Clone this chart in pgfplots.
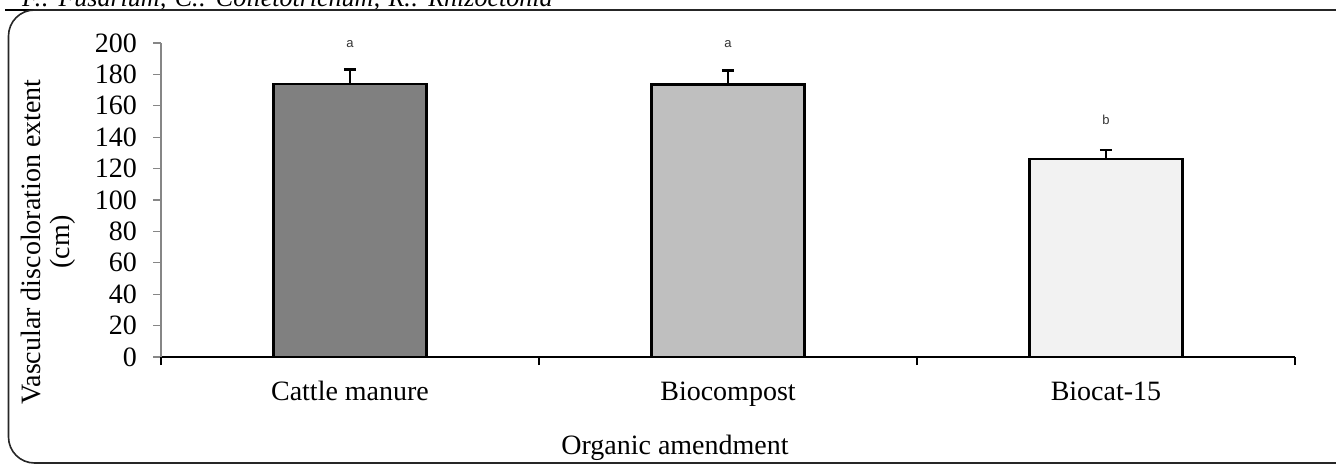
\documentclass[border=0pt]{standalone}
\usepackage{fontspec}
\setmainfont{Liberation Serif}
\newfontfamily\arial{Liberation Sans}
\usepackage{pgfplots}
\pgfplotsset{compat=1.18}
\definecolor{barA}{HTML}{808080}
\definecolor{barB}{HTML}{BFBFBF}
\definecolor{barC}{HTML}{F2F2F2}
\definecolor{axgray}{HTML}{868686}
\begin{document}
\begin{tikzpicture}[x=1pt,y=1pt]
\useasboundingbox (0,0) rectangle (1336,467);
% header text (cut off at the top, as in the reference)
\node[anchor=base west, inner sep=0pt, font=\itshape\fontsize{26}{26}\selectfont] at (22,460) {F.: Fusarium; C.: Colletotrichum; R.: Rhizoctonia};
\draw[line width=2.4pt] (5,457) -- (1336,457);
\draw[line width=1.6pt, black!85, rounded corners=26pt] (8.5,4) rectangle (1362,457);
\begin{axis}[
  at={(161pt,110pt)}, anchor=south west,
  scale only axis, width=1134pt, height=314pt,
  xmin=-0.5, xmax=2.5, ymin=0, ymax=200,
  axis x line*=bottom, axis y line*=left,
  x axis line style={-, black, line width=1.1pt},
  y axis line style={-, axgray, line width=1.3pt},
  tick align=outside, major tick length=8pt,
  ytick={0,20,...,200},
  y tick style={axgray, line width=1.3pt},
  xtick={0,1,2},
  xticklabels={Cattle manure, Biocompost, Biocat-15},
  x tick style={draw=none},
  extra x ticks={-0.5,0.5,1.5,2.5},
  extra x tick labels={},
  extra x tick style={x tick style={draw=black, line width=1.1pt}},
  /pgf/number format/assume math mode=true,
  tick label style={font=\fontsize{28}{28}\selectfont},
  yticklabel style={anchor=east, inner sep=0pt, xshift=-16pt},
  xticklabel style={anchor=base, inner sep=0pt, yshift=-35pt},
  clip=false,
]
\addplot[ybar, bar width=153pt, bar shift=0pt, fill=barA, draw=black, line width=2.5pt,
  error bars/.cd, y dir=plus, y explicit,
  error bar style={line width=2.5pt, black},
  error mark options={rotate=90, mark size=6pt, line width=2.5pt, black}]
  coordinates {(0,174) +- (0,9)};
\addplot[ybar, bar width=153pt, bar shift=0pt, fill=barB, draw=black, line width=2.5pt,
  error bars/.cd, y dir=plus, y explicit,
  error bar style={line width=2.5pt, black},
  error mark options={rotate=90, mark size=6pt, line width=2.5pt, black}]
  coordinates {(1,173.5) +- (0,9)};
\addplot[ybar, bar width=153pt, bar shift=0pt, fill=barC, draw=black, line width=2.5pt,
  error bars/.cd, y dir=plus, y explicit,
  error bar style={line width=2.5pt, black},
  error mark options={rotate=90, mark size=6pt, line width=2.5pt, black}]
  coordinates {(2,126) +- (0,6)};
\node[font=\arial\fontsize{13}{13}\selectfont, text=black!80] at (axis cs:0,199.5) {a};
\node[font=\arial\fontsize{13}{13}\selectfont, text=black!80] at (axis cs:1,199.5) {a};
\node[font=\arial\fontsize{13}{13}\selectfont, text=black!80] at (axis cs:2,151) {b};
\end{axis}
\node[anchor=base, rotate=90, inner sep=0pt, font=\fontsize{28}{28}\selectfont] at (40,225) {Vascular discoloration extent};
\node[anchor=base, rotate=90, inner sep=0pt, font=\fontsize{28}{28}\selectfont] at (69,225) {(cm)};
\node[anchor=base, inner sep=0pt, font=\fontsize{28}{28}\selectfont] at (675,13) {Organic amendment};
\end{tikzpicture}
\end{document}
